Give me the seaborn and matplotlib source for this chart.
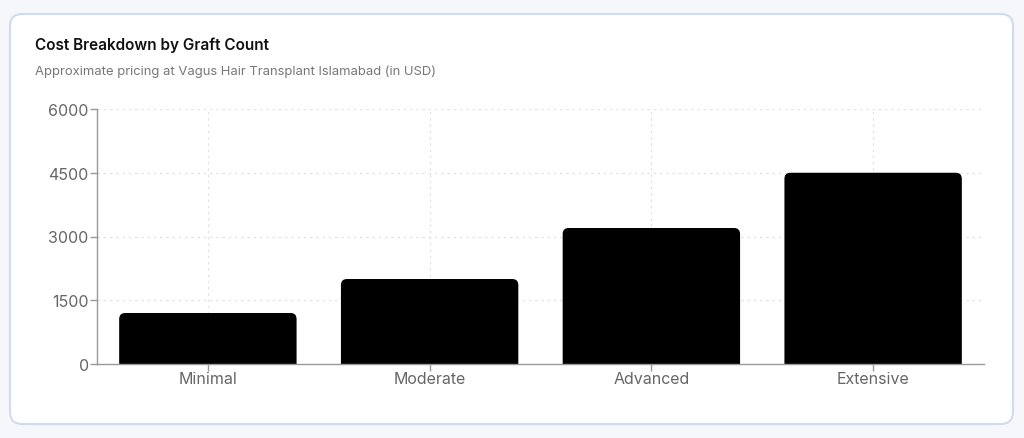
import pandas as pd
import matplotlib.pyplot as plt
import seaborn as sns
from matplotlib.patches import FancyBboxPatch

# Datos del gráfico
categorias = ['Minimal', 'Moderate', 'Advanced', 'Extensive']
costos = [1200, 2000, 3200, 4500]
ticks_y = [0, 1500, 3000, 4500, 6000]

df = pd.DataFrame({'Categoria': categorias, 'Costo': costos})

sns.set_theme(style="white")
plt.rcParams['font.family'] = ['Inter', 'DejaVu Sans']

W, H = 1024, 439
fig = plt.figure(figsize=(W / 100, H / 100), dpi=100)
fig.patch.set_facecolor('#f5f7fb')

# Tarjeta de fondo
card = FancyBboxPatch((10 / W, 14 / H), (1003 / W), (410 / H),
                      boxstyle="round,pad=0,rounding_size=0.012",
                      mutation_aspect=W / H,
                      transform=fig.transFigure, facecolor='white',
                      edgecolor='#cfdbef', linewidth=1.5, zorder=-5)
fig.patches.append(card)

fig.text(35 / W, 1 - 45 / H, 'Cost Breakdown by Graft Count', fontsize=11,
         fontweight='semibold', color='#111111', va='center', ha='left')
fig.text(35 / W, 1 - 72 / H, 'Approximate pricing at Vagus Hair Transplant Islamabad (in USD)',
         fontsize=9.4, color='#777777', va='center', ha='left')

ax = fig.add_axes([97 / W, 1 - 365 / H, (984 - 97) / W, (365 - 110) / H])
ax.set_facecolor('none')

sns.barplot(data=df, x='Categoria', y='Costo', color='black', width=0.8, ax=ax)

ax.set_xlim(-0.5, 3.5)
ax.set_ylim(0, 6000)
ax.set_yticks(ticks_y)

# Reemplazar barras por rectángulos con esquinas redondeadas
px_x = (984 - 97) / 4.0        # píxeles por unidad en x
px_y = (365 - 110) / 6000.0    # píxeles por unidad en y
r_x = 6 / px_x
aspecto = px_x / px_y
for p in list(ax.patches):
    x0, w, h = p.get_x(), p.get_width(), p.get_height()
    p.remove()
    extra = 20 / px_y
    nuevo = FancyBboxPatch((x0, -extra), w, h + extra,
                           boxstyle=f"round,pad=0,rounding_size={r_x}",
                           mutation_aspect=aspecto,
                           facecolor='black', edgecolor='none', zorder=2)
    ax.add_patch(nuevo)

# Rejilla punteada
for yv in ticks_y[1:]:
    ax.axhline(yv, color='#e3e3e3', linestyle=(0, (2, 3)), linewidth=0.9, zorder=1)
for xv in list(range(len(categorias))) + [3.5]:
    ax.axvline(xv, color='#e3e3e3', linestyle=(0, (2, 3)), linewidth=0.9, zorder=1)

for s in ['top', 'right']:
    ax.spines[s].set_visible(False)
for s in ['left', 'bottom']:
    ax.spines[s].set_color('#999999')
    ax.spines[s].set_linewidth(1.0)

ax.tick_params(axis='both', which='both', direction='out', length=5, width=1,
               color='#999999', labelcolor='#666666', labelsize=11.5, pad=1,
               left=True, bottom=True)
ax.tick_params(axis='x', pad=0)
ax.set_xlabel('')
ax.set_ylabel('')

fig.savefig('out.png', dpi=100, facecolor=fig.get_facecolor())
